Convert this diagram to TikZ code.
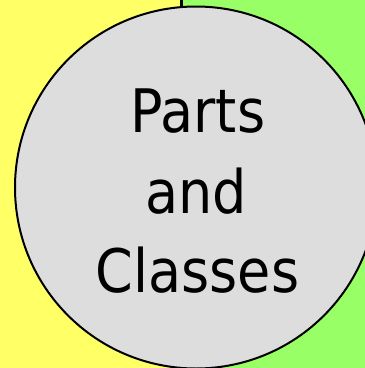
\documentclass[tikz,border=0pt]{standalone}
\usepackage{fontspec}
\newfontfamily\labelfont{DejaVu Sans Condensed}
\definecolor{bgyellow}{RGB}{255,255,102}
\definecolor{bggreen}{RGB}{153,255,102}
\definecolor{circgray}{RGB}{221,221,221}
\begin{document}
\begin{tikzpicture}[x=1pt,y=-1pt,
  bigcircle/.style={circle,draw=black,line width=2pt,fill=circgray,minimum size=362pt,inner sep=0pt},
  label/.style={anchor=base,inner sep=0pt,font=\labelfont\fontsize{60}{80}\selectfont}]
\useasboundingbox (0,0) rectangle (365,368);
\fill[bgyellow] (0,0) rectangle (181.5,368);
\fill[bggreen] (181.5,0) rectangle (365,368);
\coordinate (topline) at (181.5,0);
\coordinate (lineend) at (181.5,12);
\draw[line width=3pt] (topline) -- (lineend);
\node[bigcircle] (c) at (196,187.5) {};
\node[label] (p) at (198,132) {Parts};
\node[label] (a) at (196,213) {and};
\node[label] (k) at (197.5,292) {Classes};
\end{tikzpicture}
\end{document}
